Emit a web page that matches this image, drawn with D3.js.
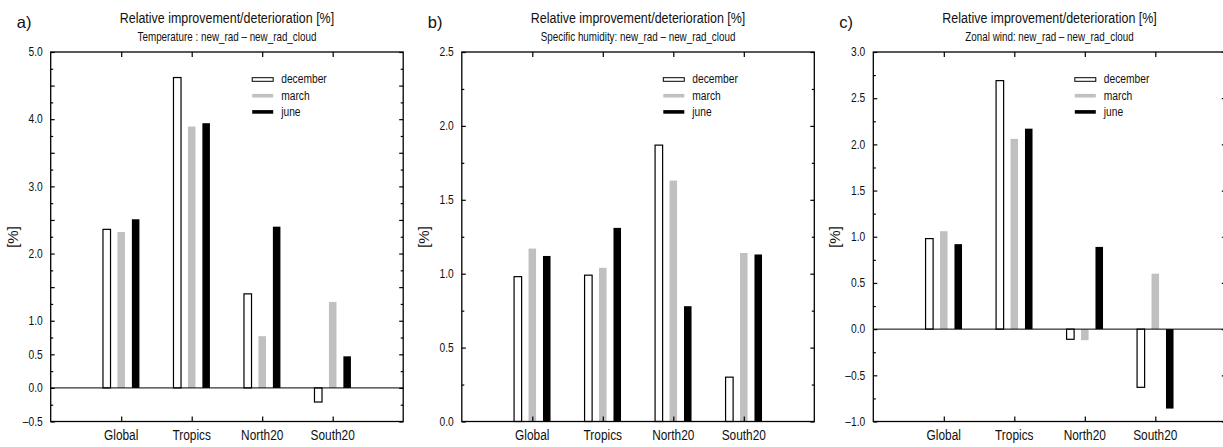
<!DOCTYPE html>
<html>
<head>
<meta charset="utf-8">
<script src="https://cdn.jsdelivr.net/npm/d3@7"></script>
<style>
  body { margin: 0; background: #fff; }
  svg { display: block; font-family: "Liberation Sans", Arial, sans-serif; }
</style>
</head>
<body>
<svg id="chart_svg"></svg>
<script>
// categories and series
const categories = ["Global", "Tropics", "North20", "South20"];
const months = ["december", "march", "june"];

// a) temperature
const tempDec = [2.36, 4.62, 1.40, -0.21];
const tempMar = [2.32, 3.89, 0.77, 1.28];
const tempJun = [2.51, 3.94, 2.40, 0.47];
const tempTicks = [-0.5, 0, 0.5, 1, 2, 3, 4, 5];

// b) specific humidity
const humDec = [0.98, 0.99, 1.87, 0.30];
const humMar = [1.17, 1.04, 1.63, 1.14];
const humJun = [1.12, 1.31, 0.78, 1.13];
const humTicks = [0, 0.5, 1, 1.5, 2, 2.5];

// c) zonal wind
const windDec = [0.98, 2.69, -0.11, -0.63];
const windMar = [1.06, 2.06, -0.12, 0.60];
const windJun = [0.92, 2.17, 0.89, -0.86];
const windTicks = [-1, -0.5, 0, 0.5, 1, 1.5, 2, 2.5, 3];

const width = 1223, height = 447;
const svg = d3.select("#chart_svg").attr("width", width).attr("height", height);

const NARROW = 0.82;
const fmt = v => (v < 0 ? "\u2013" : "") + Math.abs(v).toFixed(1);

// text in a condensed look (Helvetica Narrow style)
function ntext(g, x, y, str, size, anchor, rot, sx) {
  return g.append("text")
    .attr("transform", `translate(${x},${y})` + (rot ? ` rotate(${rot})` : "") + ` scale(${sx || NARROW},1)`)
    .attr("text-anchor", anchor || "start")
    .attr("font-size", size)
    .attr("fill", "#111")
    .text(str);
}

function drawPanel(p) {
  const x0 = p.left, x1 = p.left + 352.5, y0 = 52, y1 = 421.5;
  const x = d3.scaleLinear().domain([0, 5]).range([x0, x1]);
  const y = d3.scaleLinear().domain(p.domain).range([y1, y0]);
  const g = svg.append("g");

  ntext(g, x0 - 34, 27.5, p.letter, 16.5, "start", 0, 1);
  ntext(g, (x0 + x1) / 2, 23, "Relative improvement/deterioration [%]", 15.2, "middle");
  ntext(g, (x0 + x1) / 2, 40.5, p.subtitle, 12, "middle");
  ntext(g, x0 - 33, 237, "[%]", 15, "middle", -90, 1);

  // bars
  const series = [p.dec, p.mar, p.jun];
  const offsets = [-0.205, 0, 0.205];
  const bw = x(0.107) - x(0);
  series.forEach((vals, j) => {
    g.append("g").selectAll("rect")
      .data(vals)
      .join("rect")
      .attr("x", (v, i) => x(i + 1 + offsets[j]) - bw / 2)
      .attr("y", v => y(Math.max(v, 0)))
      .attr("width", bw)
      .attr("height", v => Math.abs(y(v) - y(0)))
      .attr("fill", p.fills[j])
      .attr("stroke", j === 0 ? "#000" : "none")
      .attr("stroke-width", 1.2);
  });

  // zero line
  if (p.domain[0] < 0) {
    g.append("line")
      .attr("x1", x0).attr("x2", x1)
      .attr("y1", y(0)).attr("y2", y(0))
      .attr("stroke", "#000").attr("stroke-width", 1);
  }

  // ticks
  const all = d3.range(Math.round(p.domain[0] * 4), Math.round(p.domain[1] * 4) + 1).map(k => k / 4);
  const major = all.filter(v => Math.abs(v * 2 - Math.round(v * 2)) < 1e-6);
  const minor = all.filter(v => !major.includes(v));
  const tickStyle = s => s.call(a => a.select(".domain").remove())
    .call(a => a.selectAll("line").attr("stroke", "#000").attr("stroke-width", 1.2));

  g.append("g").attr("transform", `translate(${x0},0)`)
    .call(d3.axisRight(y).tickValues(minor).tickSize(2.5).tickFormat("")).call(tickStyle);
  g.append("g").attr("transform", `translate(${x0},0)`)
    .call(d3.axisRight(y).tickValues(major).tickSize(4).tickFormat("")).call(tickStyle);
  g.append("g").attr("transform", `translate(${x1},0)`)
    .call(d3.axisLeft(y).tickValues(minor).tickSize(2.5).tickFormat("")).call(tickStyle);
  g.append("g").attr("transform", `translate(${x1},0)`)
    .call(d3.axisLeft(y).tickValues(major).tickSize(4).tickFormat("")).call(tickStyle);
  g.append("g").attr("transform", `translate(0,${y0})`)
    .call(d3.axisBottom(x).tickValues([1, 2, 3, 4]).tickSize(5).tickFormat("")).call(tickStyle);
  g.append("g").attr("transform", `translate(0,${y1})`)
    .call(d3.axisTop(x).tickValues([1, 2, 3, 4]).tickSize(5).tickFormat("")).call(tickStyle);

  // frame
  g.append("rect")
    .attr("x", x0).attr("y", y0)
    .attr("width", x1 - x0).attr("height", y1 - y0)
    .attr("fill", "none").attr("stroke", "#000").attr("stroke-width", 1.3);

  // y tick labels
  p.ticks.forEach(v => ntext(g, x0 - 8, y(v) + 4.3, fmt(v), 12.5, "end"));

  // category labels
  categories.forEach((c, i) => ntext(g, x(i + 1), 440, c, 14.5, "middle"));

  // legend
  months.forEach((m, j) => {
    const ly = 79.5 + j * 16.2;
    g.append("rect")
      .attr("x", x0 + 201.5).attr("y", ly - 1.8)
      .attr("width", 21).attr("height", 3.6)
      .attr("fill", p.fills[j])
      .attr("stroke", j === 0 ? "#000" : "none")
      .attr("stroke-width", 1);
    ntext(g, x0 + 230.5, ly + 3.8, m, 12.5);
  });
}

const fills = ["#fff", "#c0c0c0", "#000"];

drawPanel({ left: 50.7, domain: [-0.5, 5], ticks: tempTicks, letter: "a)",
  subtitle: "Temperature : new_rad \u2013 new_rad_cloud",
  dec: tempDec, mar: tempMar, jun: tempJun, fills });
drawPanel({ left: 461.8, domain: [0, 2.5], ticks: humTicks, letter: "b)",
  subtitle: "Specific humidity: new_rad \u2013 new_rad_cloud",
  dec: humDec, mar: humMar, jun: humJun, fills });
drawPanel({ left: 873.3, domain: [-1, 3], ticks: windTicks, letter: "c)",
  subtitle: "Zonal wind: new_rad \u2013 new_rad_cloud",
  dec: windDec, mar: windMar, jun: windJun, fills });
</script>
</body>
</html>
